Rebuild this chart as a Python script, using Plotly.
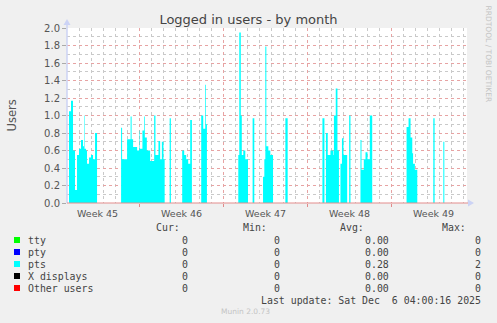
import plotly.graph_objects as go
from datetime import datetime, timedelta

# ---------------- data ----------------
title_text = "Logged in users - by month"
y_title = "Users"
range_start = datetime(2025, 11, 2, 23, 40)
range_end = datetime(2025, 12, 6, 6, 20)

week_grid_start = "2025-11-02"   # weeks start on Sunday
week_labels = ["Week 45", "Week 46", "Week 47", "Week 48", "Week 49"]
week_label_times = ["2025-11-05 12:00", "2025-11-12 12:00", "2025-11-19 12:00",
                    "2025-11-26 12:00", "2025-12-03 12:00"]

series_names = ["tty", "pty", "pts", "X displays", "Other users"]
series_colors = ["#00FF00", "#0000FF", "#00FFFF", "#000000", "#FF0000"]
cur_vals = ["0", "0", "0", "0", "0"]
min_vals = ["0", "0", "0", "0", "0"]
avg_vals = ["0.00", "0.00", "0.28", "0.00", "0.00"]
max_vals = ["0", "0", "2", "0", "0"]
last_update = "Last update: Sat Dec  6 04:00:16 2025"
footer = "Munin 2.0.73"
watermark = "RRDTOOL / TOBI OETIKER"

# pts: step values, hours since range_start
pts_hours = [0, 4, 8, 12, 16, 20, 24, 28, 32, 34, 35, 38, 40, 44, 48, 52, 56, 60,
             108, 110, 120, 127, 129, 132, 140, 144, 145, 150.6, 154, 155.4, 159.4,
             166, 174, 176.6, 182.6, 186, 189.4, 192.6, 195,
             205, 207.4,
             230, 234, 238, 242, 246, 249.4,
             268, 272, 276, 277.4, 279.4,
             342, 344, 347, 349, 352, 356, 361.4,
             370.6, 374,
             391.4, 394, 396, 398, 402, 406, 411.4,
             436, 440.6,
             510, 514, 517, 520.6, 526, 532, 533, 536.6, 540, 543, 546, 549, 552, 559.4,
             563.4, 566,
             586, 588, 592.6, 596, 600, 604.6, 609.4,
             678, 682, 686, 689.4, 691, 694.6, 699.4,
             731.4, 734,
             751.4, 753.4, 800]
pts_values = [0, 1.05, 1.17, 0.6, 0.15, 0.55, 0.62, 0.72, 0.65, 1.0, 0.62, 0.6, 0.45, 0.52, 0.55, 0.5, 0.8, 0,
              0.86, 0.5, 0.73, 0.99, 0.73, 0.64, 0.6, 0.83, 0.62, 0.83, 0.99, 0.75, 0.6,
              0.48, 1.0, 0.55, 0.71, 0.5, 0.7, 0.5, 0,
              0.97, 0,
              0.6, 0.55, 0.5, 0.45, 0.95, 0,
              1.0, 0.85, 1.35, 0.9, 0,
              0.55, 1.95, 1.0, 0.55, 0.6, 0.5, 0,
              0.97, 0,
              0.3, 0.5, 1.79, 0.65, 0.6, 0.55, 0,
              0.97, 0,
              0.97, 0, 0.8, 0.55, 0.6, 0.55, 1.0, 1.31, 0.6, 0, 0.45, 0.74, 0.55, 0,
              1.0, 0,
              0.72, 0.38, 0.5, 0.58, 0.5, 1.0, 0,
              0.87, 0.97, 0.75, 0.57, 0.45, 0.38, 0,
              0.97, 0,
              0.7, 0, 0]

# ---------------- geometry helpers ----------------
W, H = 497, 323
L, R, T, B = 67, 467, 28, 203


def px(x):
    return (x - L) / (R - L)


def py(y):
    return (B - y) / (B - T)


pts_times = [range_start + timedelta(hours=h) for h in pts_hours]

fig = go.Figure()
fig.add_trace(go.Scatter(
    x=pts_times, y=pts_values, mode="lines", line=dict(width=0, shape="hv"),
    fill="tozeroy", fillcolor=series_colors[2], hoverinfo="skip", showlegend=False))

major_red = "#E7A3A3"
minor_grey = "#C9C9C9"
text_col = "#555555"

fig.update_layout(
    width=W, height=H, autosize=False,
    margin=dict(l=L, r=W - R, t=T, b=H - B, pad=0),
    paper_bgcolor="#F0F0F0", plot_bgcolor="#FFFFFF",
    showlegend=False,
    title=dict(text=title_text, x=0.5, xref="container", xanchor="center",
               y=1 - 19 / H, yref="container", yanchor="middle",
               font=dict(family="DejaVu Sans", size=13, color="#444444")),
    xaxis=dict(type="date", range=[range_start, range_end], layer="below traces",
               tick0=week_grid_start, dtick=7 * 86400000,
               showgrid=True, gridcolor=major_red, griddash="dot", gridwidth=1,
               ticks="outside", ticklen=3, tickcolor="#E08A8A",
               showticklabels=False, showline=False, zeroline=False,
               minor=dict(dtick=86400000, tick0=week_grid_start, showgrid=True,
                          gridcolor=minor_grey, griddash="dot", gridwidth=1, ticks="")),
    yaxis=dict(range=[0, 2.0], dtick=0.2, tick0=0, tickformat=".1f", layer="below traces",
               showgrid=True, gridcolor=major_red, griddash="dot", gridwidth=1,
               ticks="outside", ticklen=4, tickcolor="#AAAAAA",
               tickfont=dict(family="DejaVu Sans", size=10, color=text_col),
               showline=False, zeroline=False,
               minor=dict(dtick=0.1, showgrid=True, gridcolor=minor_grey,
                          griddash="dot", gridwidth=1, ticks="")),
)

shapes = []
# axes lines and arrows
shapes.append(dict(type="line", xref="paper", yref="paper", x0=px(67), x1=px(67),
                   y0=py(203), y1=py(24), line=dict(color="#CCD3F5", width=1.5)))
shapes.append(dict(type="line", xref="paper", yref="paper", x0=px(67), x1=px(468),
                   y0=py(203), y1=py(203), line=dict(color="#E38C8C", width=1)))
shapes.append(dict(type="path", xref="paper", yref="paper",
                   path=f"M {px(63.5)},{py(25)} L {px(70.5)},{py(25)} L {px(67)},{py(19)} Z",
                   fillcolor="#CCD3F5", line=dict(width=0)))
shapes.append(dict(type="path", xref="paper", yref="paper",
                   path=f"M {px(468)},{py(199.5)} L {px(468)},{py(206.5)} L {px(474)},{py(203)} Z",
                   fillcolor="#CCD3F5", line=dict(width=0)))

annotations = []
# week labels
for t, lab in zip(week_label_times, week_labels):
    annotations.append(dict(x=t, xref="x", y=py(213), yref="paper", text=lab,
                            showarrow=False, xanchor="center", yanchor="middle",
                            font=dict(family="DejaVu Sans", size=9.5, color=text_col)))
# y axis title
annotations.append(dict(x=px(11), y=py(115.5), xref="paper", yref="paper", text=y_title,
                        textangle=-90, showarrow=False, xanchor="center", yanchor="middle",
                        font=dict(family="DejaVu Sans", size=11.5, color=text_col)))
# watermark
annotations.append(dict(x=px(488.5), y=py(54), xref="paper", yref="paper", text=watermark,
                        textangle=90, showarrow=False, xanchor="center", yanchor="middle",
                        font=dict(family="DejaVu Sans", size=7.5, color="#C4C4C4")))

mono = dict(family="DejaVu Sans Mono", size=9.9, color="#444444")


def txt(x, y, s, anchor="left", font=mono):
    annotations.append(dict(x=px(x), y=py(y), xref="paper", yref="paper", text=s,
                            showarrow=False, xanchor=anchor, yanchor="middle", font=font))


# legend header
txt(182, 227, "Cur:", "right")
txt(268.5, 227, "Min:", "right")
txt(365.5, 227, "Avg:", "right")
txt(468.5, 227, "Max:", "right")
row_y = [240, 252, 264, 276, 288]
for i, name in enumerate(series_names):
    y = row_y[i]
    shapes.append(dict(type="rect", xref="paper", yref="paper",
                       x0=px(14), x1=px(20), y0=py(y + 3), y1=py(y - 3),
                       fillcolor=series_colors[i], line=dict(width=0)))
    txt(26, y, name.replace(" ", "&nbsp;"))
    txt(189.5, y, cur_vals[i], "right")
    txt(282, y, min_vals[i], "right")
    txt(390.5, y, avg_vals[i], "right")
    txt(482.5, y, max_vals[i], "right")
txt(482.5, 300, last_update.replace(" ", "&nbsp;"), "right")
txt(245.5, 311, footer, "center", dict(family="DejaVu Sans", size=7.5, color="#C4C4C4"))

fig.update_layout(shapes=shapes, annotations=annotations)
fig.write_html("out.html")
